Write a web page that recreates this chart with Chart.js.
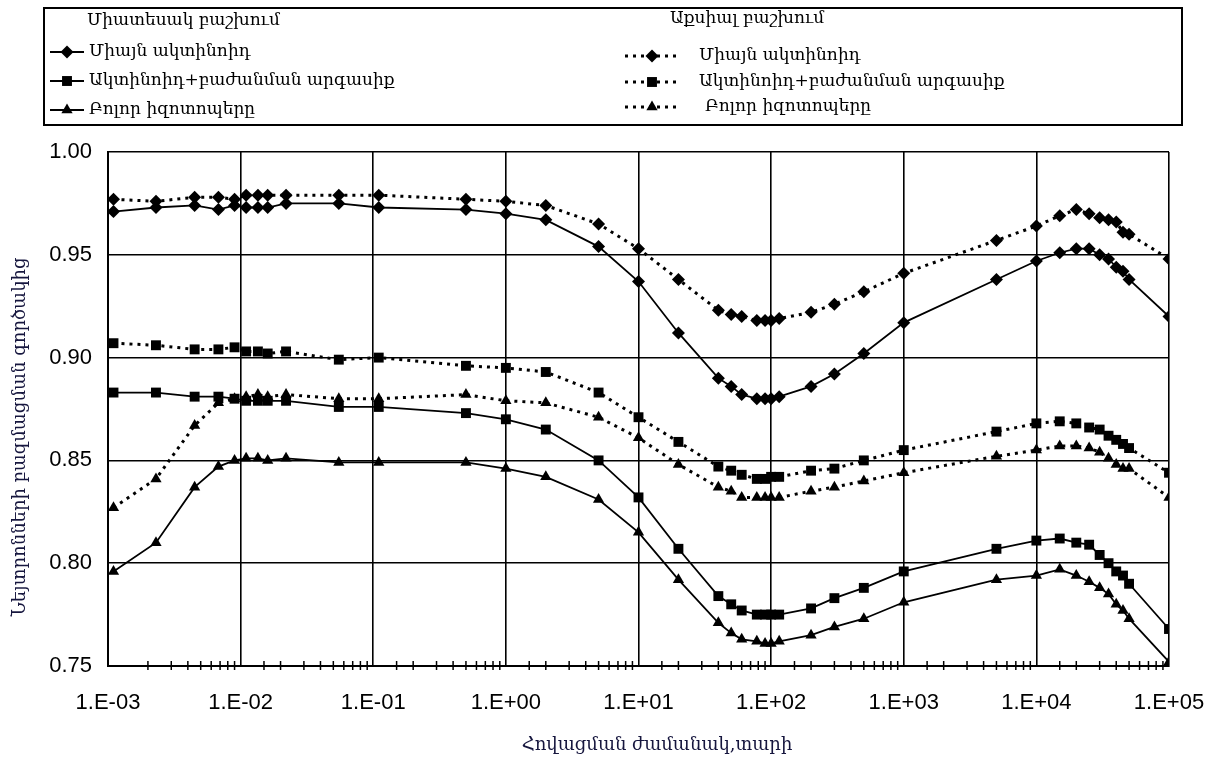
<!DOCTYPE html>
<html>
<head>
<meta charset="utf-8">
<script src="https://cdn.jsdelivr.net/npm/chart.js@4.4.1/dist/chart.umd.min.js"></script>
<style>
  body { margin: 0; background: #fff; }
  #wrap { width: 1217px; height: 760px; position: relative; }
</style>
</head>
<body>
<div id="wrap"><canvas id="myChart"></canvas></div>
<script>
// Հովացման ժամանակ (տարի) - x արժեքներ
const coolingTime = [0.0011, 0.0023, 0.0045, 0.0068, 0.009, 0.011, 0.0135, 0.016, 0.022, 0.055, 0.11, 0.5, 1,
  2, 5, 10, 20, 40, 50, 60, 78, 90, 100, 115, 200, 300, 500, 1000,
  5000, 10000, 15000, 20000, 25000, 30000, 35000, 40000, 45000, 50000, 100000];

// Միատեսակ բաշխում
const uniActinides = [0.971, 0.973, 0.974, 0.972, 0.974, 0.973, 0.973, 0.973, 0.975, 0.975, 0.973, 0.972, 0.970,
  0.967, 0.954, 0.937, 0.912, 0.890, 0.886, 0.882, 0.880, 0.880, 0.880, 0.881, 0.886, 0.892, 0.902, 0.917,
  0.938, 0.947, 0.951, 0.953, 0.953, 0.950, 0.948, 0.944, 0.942, 0.938, 0.920];
const uniActFp = [0.883, 0.883, 0.881, 0.881, 0.880, 0.879, 0.879, 0.879, 0.879, 0.876, 0.876, 0.873, 0.870,
  0.865, 0.850, 0.832, 0.807, 0.784, 0.780, 0.777, 0.775, 0.775, 0.775, 0.775, 0.778, 0.783, 0.788, 0.796,
  0.807, 0.811, 0.812, 0.810, 0.809, 0.804, 0.800, 0.796, 0.794, 0.790, 0.768];
const uniAll = [0.796, 0.810, 0.837, 0.847, 0.850, 0.851, 0.851, 0.850, 0.851, 0.849, 0.849, 0.849, 0.846,
  0.842, 0.831, 0.815, 0.792, 0.771, 0.766, 0.763, 0.762, 0.761, 0.761, 0.762, 0.765, 0.769, 0.773, 0.781,
  0.792, 0.794, 0.797, 0.794, 0.791, 0.788, 0.785, 0.780, 0.777, 0.773, 0.752];

// Աքսիալ բաշխում
const axActinides = [0.977, 0.976, 0.978, 0.978, 0.977, 0.979, 0.979, 0.979, 0.979, 0.979, 0.979, 0.977, 0.976,
  0.974, 0.965, 0.953, 0.938, 0.923, 0.921, 0.920, 0.918, 0.918, 0.918, 0.919, 0.922, 0.926, 0.932, 0.941,
  0.957, 0.964, 0.969, 0.972, 0.970, 0.968, 0.967, 0.966, 0.961, 0.960, 0.948];
const axActFp = [0.907, 0.906, 0.904, 0.904, 0.905, 0.903, 0.903, 0.902, 0.903, 0.899, 0.900, 0.896, 0.895,
  0.893, 0.883, 0.871, 0.859, 0.847, 0.845, 0.843, 0.841, 0.841, 0.842, 0.842, 0.845, 0.846, 0.850, 0.855,
  0.864, 0.868, 0.869, 0.868, 0.866, 0.865, 0.862, 0.860, 0.858, 0.856, 0.844];
const axAll = [0.827, 0.841, 0.867, 0.878, 0.880, 0.881, 0.882, 0.881, 0.882, 0.880, 0.880, 0.882, 0.879,
  0.878, 0.871, 0.861, 0.848, 0.837, 0.835, 0.832, 0.832, 0.832, 0.832, 0.832, 0.835, 0.837, 0.840, 0.844,
  0.852, 0.855, 0.857, 0.857, 0.856, 0.854, 0.851, 0.848, 0.846, 0.846, 0.832];

const legendHeaders = ['Միատեսակ բաշխում', 'Աքսիալ բաշխում'];
const seriesNames = ['Միայն ակտինոիդ', 'Ակտինոիդ+բաժանման արգասիք', 'Բոլոր իզոտոպերը'];
const xTitle = 'Հովացման ժամանակ,տարի';
const yTitle = 'Նեյտրոնների բազմացման գործակից';

const armFont = '"DejaVu Serif", "DejaVu Sans", serif';

function pairs(vals) {
  return vals.map((v, i) => ({ x: coolingTime[i], y: v }));
}

function serie(label, vals, style, dotted) {
  const r = style === 'rect' ? 7 : 6.5;
  return {
    label: label,
    data: pairs(vals),
    borderColor: '#000',
    backgroundColor: '#000',
    borderWidth: dotted ? 3 : 1.8,
    borderDash: dotted ? [3, 5] : [],
    pointStyle: style,
    pointRadius: r,
    pointHoverRadius: r,
    pointBorderWidth: 0,
    tension: 0
  };
}

function isPow10(v) {
  const l = Math.log10(v);
  return Math.abs(l - Math.round(l)) < 1e-9;
}

function fmtExp(v) {
  const e = Math.round(Math.log10(v));
  const s = Math.abs(e) < 10 ? '0' + Math.abs(e) : '' + Math.abs(e);
  return '1.E' + (e < 0 ? '-' : '+') + s;
}

// Լեգենդը՝ երկու սյունակով, և առանցքների վերնագրերը
const legendBox = {
  id: 'legendBox',
  afterDraw(chart) {
    const ctx = chart.ctx;
    const ds = chart.data.datasets;
    ctx.save();
    ctx.strokeStyle = '#000';
    ctx.lineWidth = 2;
    ctx.strokeRect(44, 8, 1138, 117);

    ctx.fillStyle = '#000';
    ctx.font = '17px ' + armFont;
    ctx.textBaseline = 'middle';
    ctx.textAlign = 'left';
    ctx.fillText(legendHeaders[0], 87, 21);
    ctx.fillText(legendHeaders[1], 670, 19);

    const leftY = [52, 81, 110];
    const rightY = [56, 82, 107];
    for (let i = 0; i < 3; i++) {
      // ձախ սյունակ
      let d = ds[i];
      ctx.setLineDash([]);
      ctx.lineWidth = 1.8;
      ctx.beginPath();
      ctx.moveTo(50, leftY[i]);
      ctx.lineTo(84, leftY[i]);
      ctx.stroke();
      Chart.helpers.drawPoint(ctx, { pointStyle: d.pointStyle, radius: d.pointRadius, rotation: 0, borderWidth: 0 }, 67, leftY[i]);
      ctx.fillText(seriesNames[i], 89, leftY[i]);

      // աջ սյունակ
      d = ds[i + 3];
      ctx.setLineDash([3, 5]);
      ctx.lineWidth = 3;
      ctx.beginPath();
      ctx.moveTo(625, rightY[i]);
      ctx.lineTo(680, rightY[i]);
      ctx.stroke();
      ctx.setLineDash([]);
      Chart.helpers.drawPoint(ctx, { pointStyle: d.pointStyle, radius: d.pointRadius, rotation: 0, borderWidth: 0 }, 652, rightY[i]);
      ctx.fillText(seriesNames[i], i === 2 ? 705 : 699, rightY[i]);
    }

    // առանցքների վերնագրեր
    ctx.fillStyle = '#16163e';
    ctx.font = '18px ' + armFont;
    ctx.textAlign = 'center';
    ctx.fillText(xTitle, 657, 745);
    ctx.translate(20, 437);
    ctx.rotate(-Math.PI / 2);
    ctx.fillText(yTitle, 0, 0);
    ctx.restore();
  }
};

// x առանցքի փոքր գծիկներ
const minorTicks = {
  id: 'minorTicks',
  afterDatasetsDraw(chart) {
    const xs = chart.scales.x;
    const ctx = chart.ctx;
    const yb = chart.chartArea.bottom;
    ctx.save();
    ctx.strokeStyle = '#000';
    ctx.lineWidth = 1.5;
    xs.ticks.forEach(t => {
      if (isPow10(t.value)) return;
      const px = xs.getPixelForValue(t.value);
      ctx.beginPath();
      ctx.moveTo(px, yb - 5);
      ctx.lineTo(px, yb + 4);
      ctx.stroke();
    });
    ctx.restore();
  }
};

function dibujarGrafico() {
  const ctx = document.getElementById('myChart').getContext('2d');
  new Chart(ctx, {
    type: 'line',
    data: {
      datasets: [
        serie('Միատեսակ - ' + seriesNames[0], uniActinides, 'rectRot', false),
        serie('Միատեսակ - ' + seriesNames[1], uniActFp, 'rect', false),
        serie('Միատեսակ - ' + seriesNames[2], uniAll, 'triangle', false),
        serie('Աքսիալ - ' + seriesNames[0], axActinides, 'rectRot', true),
        serie('Աքսիալ - ' + seriesNames[1], axActFp, 'rect', true),
        serie('Աքսիալ - ' + seriesNames[2], axAll, 'triangle', true)
      ]
    },
    options: {
      responsive: true,
      maintainAspectRatio: false,
      animation: false,
      layout: { padding: { top: 152, left: 0, right: 48, bottom: 4 } },
      plugins: {
        legend: { display: false },
        tooltip: { enabled: false }
      },
      scales: {
        x: {
          type: 'logarithmic',
          min: 0.001,
          max: 100000,
          afterFit: s => { s.height = 90; s.paddingLeft = 0; s.paddingRight = 0; },
          border: { color: '#000', width: 2 },
          grid: {
            color: c => (c.tick && isPow10(c.tick.value)) ? '#000' : 'rgba(0,0,0,0)',
            lineWidth: 1.6,
            drawTicks: false
          },
          ticks: {
            autoSkip: false,
            maxRotation: 0,
            padding: 24,
            color: '#000',
            font: { family: 'Liberation Sans', size: 22 },
            callback: v => isPow10(v) ? fmtExp(v) : ''
          }
        },
        y: {
          min: 0.75,
          max: 1.0,
          afterFit: s => { s.width = 108; },
          border: { color: '#000', width: 2 },
          grid: { color: '#000', lineWidth: 1.6, drawTicks: false },
          ticks: {
            stepSize: 0.05,
            padding: 16,
            color: '#000',
            font: { family: 'Liberation Sans', size: 22 },
            callback: v => v.toFixed(2)
          }
        }
      }
    },
    plugins: [legendBox, minorTicks]
  });
}

document.addEventListener('DOMContentLoaded', () => {
  dibujarGrafico();
});
</script>
</body>
</html>
